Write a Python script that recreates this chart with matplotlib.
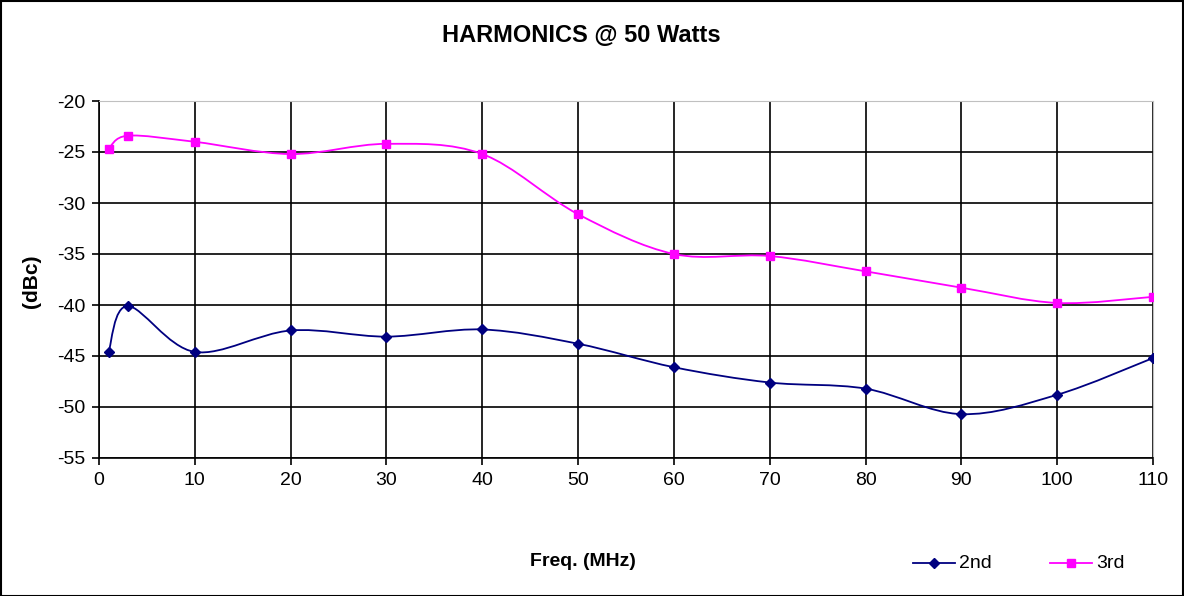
import numpy as np
import matplotlib
matplotlib.use("Agg")
import matplotlib.pyplot as plt
from matplotlib.path import Path
from matplotlib.patches import PathPatch, Rectangle

plt.rcParams['font.family'] = ['Liberation Sans', 'DejaVu Sans']
plt.rcParams['axes.unicode_minus'] = False

freq = [1, 3, 10, 20, 30, 40, 50, 60, 70, 80, 90, 100, 110]
second = [-44.6, -40.1, -44.6, -42.5, -43.1, -42.4, -43.8, -46.1, -47.6, -48.2, -50.7, -48.8, -45.2]
third = [-24.7, -23.4, -24.0, -25.2, -24.2, -25.2, -31.1, -35.0, -35.2, -36.7, -38.3, -39.8, -39.2]
xticks = list(range(0, 111, 10))
yticks = list(range(-55, -19, 5))


def smooth_path(xs, ys):
    # Excel-style smoothed line: cubic Bezier segments, Catmull-Rom control points
    p = np.column_stack([xs, ys]).astype(float)
    n = len(p)
    verts = [p[0]]
    codes = [Path.MOVETO]
    for i in range(n - 1):
        p0 = p[i - 1] if i > 0 else p[i]
        p3 = p[i + 2] if i + 2 < n else p[i + 1]
        c1 = p[i] + (p[i + 1] - p0) / 6.0
        c2 = p[i + 1] - (p3 - p[i]) / 6.0
        verts += [c1, c2, p[i + 1]]
        codes += [Path.CURVE4] * 3
    return Path(verts, codes)


fig = plt.figure(figsize=(11.84, 5.96), dpi=100)
ax = fig.add_axes([99 / 1184, 1 - 458 / 596, (1153 - 99) / 1184, (458 - 101) / 596])

ax.set_xlim(0, 110)
ax.set_ylim(-55, -20)
ax.set_xticks(xticks)
ax.set_yticks(yticks)
ax.grid(True, color='black', linewidth=1.2)
ax.set_axisbelow(True)
ax.tick_params(direction='out', length=5, width=1.2, labelsize=14, color='black', pad=5)

for s in ['top', 'right']:
    ax.spines[s].set_color('#c0c0c0')
for s in ['left', 'bottom']:
    ax.spines[s].set_color('black')
    ax.spines[s].set_linewidth(1.2)

ax.add_patch(PathPatch(smooth_path(freq, second), fill=False, edgecolor='#000080', linewidth=1.3, zorder=3))
ax.add_patch(PathPatch(smooth_path(freq, third), fill=False, edgecolor='#ff00ff', linewidth=1.3, zorder=3))
ax.plot(freq, second, linestyle='none', marker='D', markersize=5, color='#000080', zorder=4)
ax.plot(freq, third, linestyle='none', marker='s', markersize=6, color='#ff00ff', zorder=4)

fig.text(581 / 1184, 1 - 36 / 596, 'HARMONICS @ 50 Watts', ha='center', va='center',
         fontsize=17, fontweight='bold')
fig.text(32 / 1184, 1 - 281 / 596, '(dBc)', ha='center', va='center', rotation=90,
         fontsize=15, fontweight='bold')
fig.text(583 / 1184, 1 - 562 / 596, 'Freq. (MHz)', ha='center', va='center',
         fontsize=14, fontweight='bold')

# legend drawn in figure coordinates, below the plot on the right
ly = 1 - 563 / 596
for x0, col, mk, ms, lab in [(913, '#000080', 'D', 5, '2nd'), (1050, '#ff00ff', 's', 6, '3rd')]:
    fig.add_artist(plt.Line2D([x0 / 1184, (x0 + 42) / 1184], [ly, ly], color=col, linewidth=1.3))
    fig.add_artist(plt.Line2D([(x0 + 21) / 1184], [ly], color=col, marker=mk, markersize=ms))
    fig.text((x0 + 46) / 1184, ly, lab, ha='left', va='center', fontsize=14)

fig.add_artist(Rectangle((0.5 / 1184, 0.5 / 596), 1 - 1.5 / 1184, 1 - 1.5 / 596,
                         transform=fig.transFigure, fill=False, edgecolor='black', linewidth=1.5))

fig.savefig('out.png', dpi=100)
